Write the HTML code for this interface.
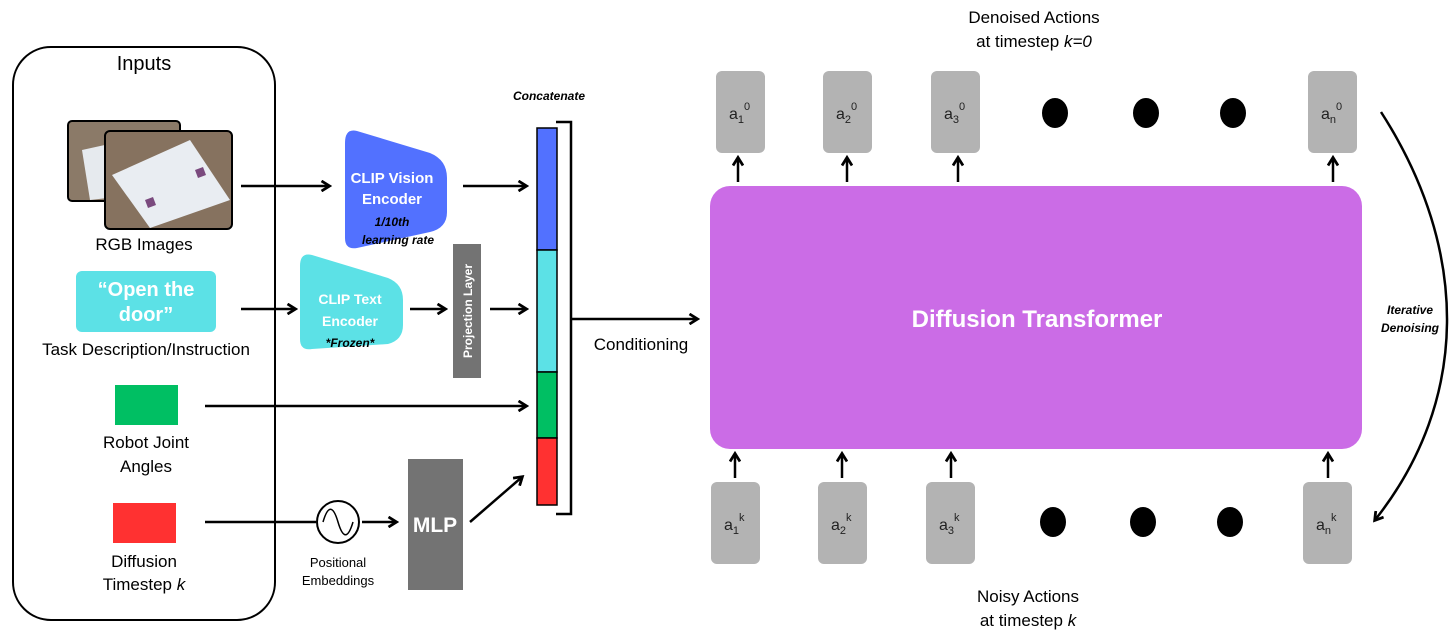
<!DOCTYPE html>
<html><head><meta charset="utf-8"><style>
html,body{margin:0;padding:0;background:#fff;}
svg{display:block;}
text{font-family:"Liberation Sans","DejaVu Sans",sans-serif;}
</style></head><body>
<svg width="1456" height="637" viewBox="0 0 1456 637" xmlns="http://www.w3.org/2000/svg">
<defs>
<marker id="ah" markerWidth="12" markerHeight="12" refX="9" refY="6" orient="auto" markerUnits="userSpaceOnUse">
<path d="M1.5,1 L9.5,6 L1.5,11" fill="none" stroke="#000" stroke-width="2.8"/>
</marker>
</defs>
<rect x="13" y="47" width="262" height="573" rx="38" fill="none" stroke="#000" stroke-width="2"/>
<text x="144" y="70" font-size="20" text-anchor="middle">Inputs</text>
<rect x="68" y="121" width="112" height="80" rx="4" fill="#8b7a68" stroke="#000" stroke-width="2"/>
<path d="M82,150 L150,135 L178,190 L90,200 Z" fill="#e6eaee"/>
<rect x="105" y="131" width="127" height="98" rx="5" fill="#86725f" stroke="#000" stroke-width="2"/>
<path d="M112,175 L190,140 L230,200 L150,228 Z" fill="#e9edf2"/>
<path d="M145,200 l8,-3 l3,8 l-8,3z M195,170 l8,-3 l3,8 l-8,3z" fill="#7a4a7e"/>
<text x="144" y="250" font-size="17" text-anchor="middle">RGB Images</text>
<rect x="76" y="271" width="140" height="61" rx="6" fill="#5ce1e6"/>
<text x="146" y="296" font-size="20" font-weight="bold" fill="#fff" text-anchor="middle">“Open the</text>
<text x="146" y="321" font-size="20" font-weight="bold" fill="#fff" text-anchor="middle">door”</text>
<text x="146" y="355" font-size="17" text-anchor="middle">Task Description/Instruction</text>
<rect x="115" y="385" width="63" height="40" fill="#00bf63"/>
<text x="146" y="448" font-size="17" text-anchor="middle">Robot Joint</text>
<text x="146" y="472" font-size="17" text-anchor="middle">Angles</text>
<rect x="113" y="503" width="63" height="40" fill="#ff3131"/>
<text x="144" y="567" font-size="17" text-anchor="middle">Diffusion</text>
<text x="144" y="590" font-size="17" text-anchor="middle">Timestep <tspan font-style="italic">k</tspan></text>
<g stroke="#000" stroke-width="2.5" fill="none" marker-end="url(#ah)">
<line x1="241" y1="186" x2="329" y2="186"/>
<line x1="463" y1="186" x2="526" y2="186"/>
<line x1="241" y1="309" x2="295" y2="309"/>
<line x1="410" y1="309" x2="445" y2="309"/>
<line x1="490" y1="309" x2="526" y2="309"/>
<line x1="205" y1="406" x2="526" y2="406"/>
<line x1="362" y1="522" x2="396" y2="522"/>
<line x1="470" y1="522" x2="522" y2="477"/>
<line x1="571" y1="319" x2="697" y2="319"/>
</g>
<line x1="205" y1="522" x2="316" y2="522" stroke="#000" stroke-width="2.5"/>
<circle cx="338" cy="522" r="21" fill="#fff" stroke="#000" stroke-width="2"/>
<path d="M323,522 C328,505 333,505 338,522 C343,539 348,539 353,522" fill="none" stroke="#000" stroke-width="1.5"/>
<text x="338" y="567" font-size="13" text-anchor="middle">Positional</text>
<text x="338" y="585" font-size="13" text-anchor="middle">Embeddings</text>
<rect x="408" y="459" width="55" height="131" fill="#737373"/>
<text x="435" y="532" font-size="21" font-weight="bold" fill="#fff" text-anchor="middle">MLP</text>
<path d="M357,131 L430,153 Q447,160 447,178 L447,212 Q447,228 430,232 L357,248 Q345,250 345,238 L345,143 Q345,128 357,131 Z" fill="#5271ff"/>
<text x="392" y="183" font-size="15" font-weight="bold" fill="#fff" text-anchor="middle">CLIP Vision</text>
<text x="392" y="204" font-size="15" font-weight="bold" fill="#fff" text-anchor="middle">Encoder</text>
<text x="392" y="226" font-size="12" font-weight="bold" font-style="italic" text-anchor="middle">1/10th</text>
<text x="398" y="244" font-size="12" font-weight="bold" font-style="italic" text-anchor="middle">learning rate</text>
<path d="M312,255 L388,278 Q403,284 403,300 L403,325 Q403,340 388,344 L312,349 Q300,351 300,339 L300,266 Q300,252 312,255 Z" fill="#5ce1e6"/>
<text x="350" y="304" font-size="14" font-weight="bold" fill="#fff" text-anchor="middle">CLIP Text</text>
<text x="350" y="326" font-size="14" font-weight="bold" fill="#fff" text-anchor="middle">Encoder</text>
<text x="350" y="347" font-size="12" font-weight="bold" font-style="italic" text-anchor="middle">*Frozen*</text>
<rect x="453" y="244" width="28" height="134" fill="#737373"/>
<text transform="translate(472,311) rotate(-90)" font-size="12" font-weight="bold" fill="#fff" text-anchor="middle">Projection Layer</text>
<text x="549" y="100" font-size="12" font-weight="bold" font-style="italic" text-anchor="middle">Concatenate</text>
<rect x="537" y="128" width="20" height="122" fill="#5271ff" stroke="#000" stroke-width="1.5"/>
<rect x="537" y="250" width="20" height="122" fill="#5ce1e6" stroke="#000" stroke-width="1.5"/>
<rect x="537" y="372" width="20" height="66" fill="#00bf63" stroke="#000" stroke-width="1.5"/>
<rect x="537" y="438" width="20" height="67" fill="#ff3131" stroke="#000" stroke-width="1.5"/>
<path d="M556,122 L571,122 L571,514 L556,514" fill="none" stroke="#000" stroke-width="2.5"/>
<text x="641" y="350" font-size="17" text-anchor="middle">Conditioning</text>
<rect x="710" y="186" width="652" height="263" rx="20" fill="#cb6ce6"/>
<text x="1037" y="327" font-size="24" font-weight="bold" fill="#fff" text-anchor="middle">Diffusion Transformer</text>
<text x="1034" y="23" font-size="17" text-anchor="middle">Denoised Actions</text>
<text x="1034" y="47" font-size="17" text-anchor="middle">at timestep <tspan font-style="italic">k=0</tspan></text>
<text x="1028" y="602" font-size="17" text-anchor="middle">Noisy Actions</text>
<text x="1028" y="626" font-size="17" text-anchor="middle">at timestep <tspan font-style="italic">k</tspan></text>
<g fill="#b3b3b3">
<rect x="716" y="71" width="49" height="82" rx="6"/>
<rect x="823" y="71" width="49" height="82" rx="6"/>
<rect x="931" y="71" width="49" height="82" rx="6"/>
<rect x="1308" y="71" width="49" height="82" rx="6"/>
<rect x="711" y="482" width="49" height="82" rx="6"/>
<rect x="818" y="482" width="49" height="82" rx="6"/>
<rect x="926" y="482" width="49" height="82" rx="6"/>
<rect x="1303" y="482" width="49" height="82" rx="6"/>
</g>
<g font-size="16" fill="#222">
<text x="729" y="119">a<tspan font-size="11" dy="4">1</tspan><tspan font-size="11" dy="-13">0</tspan></text>
<text x="836" y="119">a<tspan font-size="11" dy="4">2</tspan><tspan font-size="11" dy="-13">0</tspan></text>
<text x="944" y="119">a<tspan font-size="11" dy="4">3</tspan><tspan font-size="11" dy="-13">0</tspan></text>
<text x="1321" y="119">a<tspan font-size="11" dy="4">n</tspan><tspan font-size="11" dy="-13">0</tspan></text>
<text x="724" y="530">a<tspan font-size="11" dy="4">1</tspan><tspan font-size="11" dy="-13">k</tspan></text>
<text x="831" y="530">a<tspan font-size="11" dy="4">2</tspan><tspan font-size="11" dy="-13">k</tspan></text>
<text x="939" y="530">a<tspan font-size="11" dy="4">3</tspan><tspan font-size="11" dy="-13">k</tspan></text>
<text x="1316" y="530">a<tspan font-size="11" dy="4">n</tspan><tspan font-size="11" dy="-13">k</tspan></text>
</g>
<g fill="#000">
<ellipse cx="1055" cy="113" rx="13" ry="15"/><ellipse cx="1146" cy="113" rx="13" ry="15"/><ellipse cx="1233" cy="113" rx="13" ry="15"/>
<ellipse cx="1053" cy="522" rx="13" ry="15"/><ellipse cx="1143" cy="522" rx="13" ry="15"/><ellipse cx="1230" cy="522" rx="13" ry="15"/>
</g>
<g stroke="#000" stroke-width="2.5" fill="none" marker-end="url(#ah)">
<line x1="738" y1="182" x2="738" y2="158"/>
<line x1="847" y1="182" x2="847" y2="158"/>
<line x1="958" y1="182" x2="958" y2="158"/>
<line x1="1333" y1="182" x2="1333" y2="158"/>
<line x1="735" y1="478" x2="735" y2="454"/>
<line x1="842" y1="478" x2="842" y2="454"/>
<line x1="951" y1="478" x2="951" y2="454"/>
<line x1="1328" y1="478" x2="1328" y2="454"/>
<path d="M1381,112 C1470,250 1470,400 1375,520"/>
</g>
<text x="1410" y="314" font-size="12" font-weight="bold" font-style="italic" text-anchor="middle">Iterative</text>
<text x="1410" y="332" font-size="12" font-weight="bold" font-style="italic" text-anchor="middle">Denoising</text>
</svg>
</body></html>
